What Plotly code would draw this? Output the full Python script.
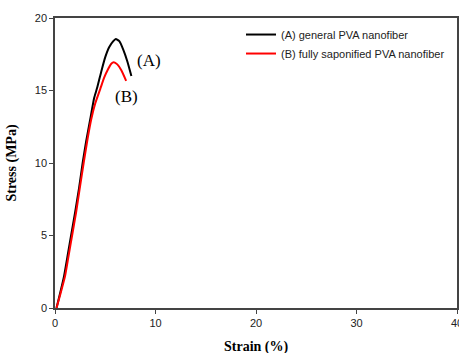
import plotly.graph_objects as go

strain_a = [0.15, 0.5, 0.9, 1.3, 1.6, 2.0, 2.4, 2.75, 3.1, 3.5, 3.9, 4.2, 4.6, 5.0, 5.4, 5.8, 6.05, 6.4, 6.8, 7.2, 7.6]
stress_a = [0.0, 1.0, 2.2, 3.8, 5.0, 6.6, 8.3, 10.0, 11.5, 13.0, 14.5, 15.2, 16.3, 17.3, 18.0, 18.4, 18.55, 18.4, 17.8, 17.0, 16.0]
strain_b = [0.15, 0.55, 1.0, 1.35, 1.7, 2.1, 2.45, 2.85, 3.25, 3.6, 4.0, 4.5, 4.9, 5.3, 5.6, 5.85, 6.2, 6.6, 7.08]
stress_b = [0.0, 1.0, 2.2, 3.6, 5.0, 6.6, 8.2, 10.0, 11.7, 13.0, 14.1, 15.1, 15.9, 16.5, 16.85, 16.95, 16.8, 16.4, 15.67]
names = ["(A) general PVA nanofiber", "(B) fully saponified PVA nanofiber"]
x_ticks = [0, 10, 20, 30, 40]
y_ticks = [0, 5, 10, 15, 20]

fig = go.Figure()
fig.add_trace(go.Scatter(x=strain_a, y=stress_a, mode="lines", name=names[0],
                         line=dict(color="black", width=2, shape="spline", smoothing=0.5)))
fig.add_trace(go.Scatter(x=strain_b, y=stress_b, mode="lines", name=names[1],
                         line=dict(color="red", width=2, shape="spline", smoothing=0.5)))

fig.add_annotation(x=9.35, y=17.1, text="(A)", showarrow=False,
                   font=dict(family="Liberation Serif", size=17, color="black"))
fig.add_annotation(x=7.1, y=14.6, text="(B)", showarrow=False,
                   font=dict(family="Liberation Serif", size=17, color="black"))
fig.add_annotation(x=0.5, xref="paper", y=-0.135, yref="paper", yanchor="middle",
                   text="<b>Strain (%)</b>", showarrow=False,
                   font=dict(family="Liberation Serif", size=14, color="black"))

axis_common = dict(showgrid=False, zeroline=False, showline=True, linecolor="#444",
                   linewidth=1.5, mirror=True, ticks="outside", ticklen=4, automargin=False,
                   tickcolor="#444", tickfont=dict(family="Liberation Sans", size=11, color="#222"))
fig.update_xaxes(range=[0, 40], tickvals=x_ticks, ticklabeloverflow="allow", **axis_common)
fig.update_yaxes(range=[0, 20], tickvals=y_ticks, **axis_common,
                 title=dict(text="<b>Stress (MPa)</b>",
                            font=dict(family="Liberation Serif", size=14, color="black")))

fig.update_layout(
    width=459, height=353,
    margin=dict(l=55, r=2, t=18, b=45),
    paper_bgcolor="white", plot_bgcolor="white",
    legend=dict(x=0.4627, y=0.993, xanchor="left", yanchor="top",
                bgcolor="rgba(0,0,0,0)", tracegroupgap=0,
                font=dict(family="Liberation Sans", size=11, color="#222"),
                itemwidth=30),
)
fig.write_html("out.html", config={"displayModeBar": False},
               post_script="document.body.style.margin='0';document.body.style.overflow='hidden';")
